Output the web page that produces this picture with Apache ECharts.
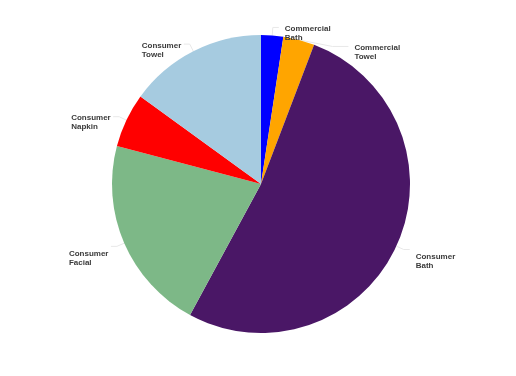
<!DOCTYPE html>
<html>
<head>
<meta charset="utf-8">
<script src="https://cdn.jsdelivr.net/npm/echarts@6/dist/echarts.min.js"></script>
<style>
  html, body { margin: 0; padding: 0; background: #fff; }
  #chart { width: 516px; height: 376px; }
</style>
</head>
<body>
<div id="chart"></div>
<script>
// segments, clockwise from 12 o'clock (share of total, %)
const segments = ["Commercial Bath", "Commercial Towel", "Consumer Bath", "Consumer Facial", "Consumer Napkin", "Consumer Towel"];
const shares = [2.4, 3.4, 52.1, 21.2, 5.9, 15.0];
const colors = ["#0000ff", "#ffa500", "#4a1766", "#7db887", "#ff0000", "#a6cbe0"];

const chart = echarts.init(document.getElementById("chart"));

const cx = 261, cy = 184;

const option = {
  animation: false,
  color: colors,
  series: [
    {
      type: "pie",
      center: [cx, cy],
      radius: 149,
      startAngle: 90,
      clockwise: true,
      avoidLabelOverlap: true,
      data: segments.map((name, i) => {
        const item = { name: name, value: shares[i] };
        // the small orange slice has a longer leader in the original
        if (name === "Commercial Towel") item.labelLine = { length2: 16 };
        return item;
      }),
      label: {
        show: true,
        position: "outside",
        // keep both words left-aligned inside the label box, like the original
        formatter: (p) => p.name.split(" ").map((w) => "{t|" + w + "}").join("\n"),
        rich: {
          t: {
            width: 40,
            align: "left",
            fontFamily: "Liberation Sans, Arial, sans-serif",
            fontWeight: "bold",
            fontSize: 8,
            lineHeight: 9,
            color: "#3a3a3a",
          },
        },
      },
      labelLine: {
        show: true,
        length: 8,
        length2: 6,
        lineStyle: { color: "#e8e8e8", width: 1 },
      },
      labelLayout: (p) => {
        const r = p.labelRect;
        const midY = r.y + r.height / 2;
        const midX = r.x + r.width / 2;
        return { dx: midX < cx ? 3 : 1, dy: midY < cy ? 6 : 12 };
      },
      itemStyle: { borderWidth: 0 },
      emphasis: { disabled: true },
    },
  ],
};

chart.setOption(option);
</script>
</body>
</html>
